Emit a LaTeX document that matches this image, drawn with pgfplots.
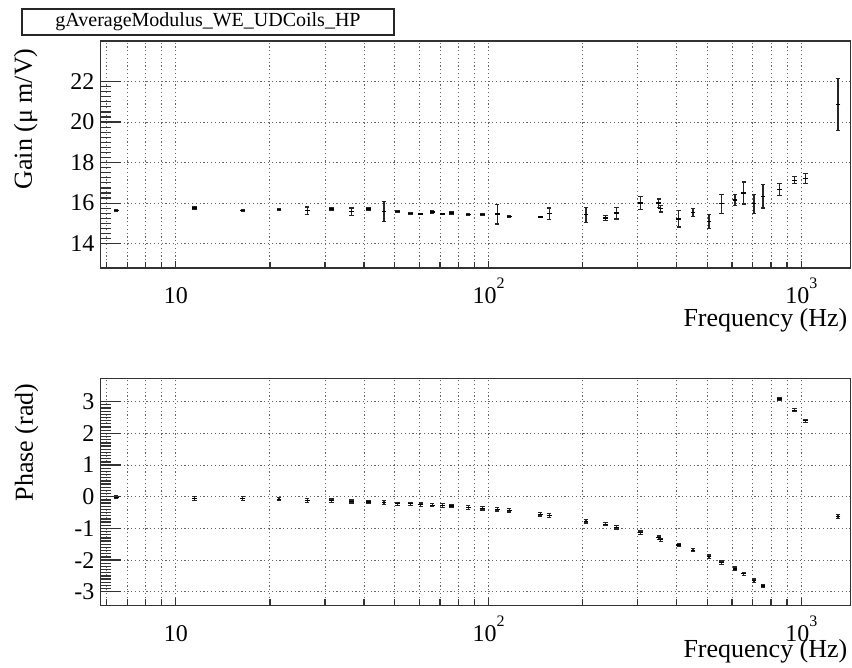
\documentclass[border=0pt]{standalone}
\usepackage{fontspec}
\setmainfont{Liberation Serif}
\usepackage{pgfplots}
\usepackage{pgfplotstable}
\pgfplotsset{compat=1.18}

% f [Hz], value, error
\pgfplotstableread{
f      g      ge
6.45   15.64  0.05
11.47  15.76  0.06
16.37  15.64  0.05
21.38  15.67  0.05
26.33  15.62  0.19
31.51  15.71  0.07
36.50  15.58  0.18
41.37  15.71  0.06
46.30  15.59  0.48
51.21  15.59  0.05
56.33  15.48  0.04
60.77  15.46  0.04
66.04  15.56  0.09
71.29  15.46  0.04
76.17  15.51  0.08
86.10  15.45  0.04
95.68  15.43  0.04
106.5  15.46  0.49
116.4  15.35  0.05
146.2  15.32  0.04
156.2  15.48  0.28
205.0  15.43  0.37
236.5  15.27  0.11
256.4  15.51  0.29
305.9  16.01  0.31
350.1  16.00  0.20
355.3  15.72  0.16
405.5  15.22  0.40
450.5  15.54  0.18
506.8  15.09  0.35
555.3  15.97  0.47
613.7  16.16  0.26
654.2  16.50  0.54
705.9  15.97  0.47
754.2  16.34  0.58
852.4  16.68  0.30
952.0  17.13  0.18
1032   17.21  0.26
1309   20.86  1.29
}\gaindata

\pgfplotstableread{
f      p      pe
6.45   -0.01  0.05
11.47  -0.06  0.06
16.37  -0.06  0.06
21.38  -0.08  0.05
26.33  -0.11  0.06
31.51  -0.12  0.05
36.50  -0.15  0.05
41.37  -0.17  0.05
46.30  -0.19  0.06
51.21  -0.22  0.05
56.33  -0.22  0.05
60.77  -0.25  0.05
66.04  -0.27  0.05
71.29  -0.28  0.06
76.17  -0.29  0.05
86.10  -0.34  0.06
95.68  -0.37  0.05
106.5  -0.40  0.05
116.4  -0.43  0.05
146.2  -0.55  0.06
156.2  -0.59  0.06
205.0  -0.78  0.05
236.5  -0.87  0.05
256.4  -0.97  0.05
305.9  -1.13  0.05
350.1  -1.29  0.05
355.3  -1.36  0.05
405.5  -1.52  0.05
450.5  -1.69  0.05
506.8  -1.89  0.05
555.3  -2.08  0.05
613.7  -2.28  0.06
654.2  -2.43  0.05
705.9  -2.65  0.05
754.2  -2.82  0.05
852.4   3.09  0.05
952.0   2.73  0.05
1032    2.40  0.05
1309   -0.62  0.07
}\phasedata

\newcommand\expo[1]{\raisebox{7.3pt}{\fontsize{8}{8}\selectfont #1}}

\begin{document}
\begin{tikzpicture}
\useasboundingbox (0,0) rectangle (426pt,334pt);

% histogram title box
\draw[line width=0.6pt, black!85] (11pt,316.5pt) rectangle (197pt,329.5pt);
\node[inner sep=0pt] at (104pt,323pt) {\fontsize{10}{12}\selectfont gAverageModulus\_WE\_UDCoils\_HP};

% ---------- gain ----------
\begin{axis}[
  at={(50.4pt,200pt)}, anchor=south west,
  scale only axis, width=375pt, height=113.5pt,
  xmode=log, xmin=5.76, xmax=1439,
  ymin=12.8, ymax=24.0,
  axis line style={line width=0.6pt, black!80},
  tick style={line width=0.6pt, black!80},
  tick align=inside,
  xtick pos=bottom, ytick pos=left,
  major tick length=3.6pt, minor tick length=3.2pt,
  xtick={10,100,1000},
  minor xtick={6,7,8,9,20,30,40,50,60,70,80,90,200,300,400,500,600,700,800,900},
  xticklabels={10, 10\expo{2}, 10\expo{3}},
  ytick={14,16,18,20,22}, minor y tick num=7,
  xmajorgrids=true, xminorgrids=true, ymajorgrids=true,
  grid style={black!60, line width=0.45pt, dash pattern=on 0.6pt off 1.3pt},
  yticklabel style={/pgf/number format/assume math mode=true, anchor=east, inner sep=0pt, xshift=-3pt, font=\fontsize{12}{12}\selectfont},
  xticklabel style={anchor=base, yshift=-17.7pt, font=\fontsize{12}{12}\selectfont},
  xlabel={Frequency (Hz)},
  xlabel style={at={([xshift=-1.5pt,yshift=-29.3pt]rel axis cs:1,0)}, anchor=base east, inner sep=0pt, font=\fontsize{13}{13}\selectfont},
  ylabel={Gain (μ m/V)},
  ylabel style={at={([xshift=-34.5pt,yshift=-3.5pt]rel axis cs:0,1)}, anchor=base east, inner sep=0pt, font=\fontsize{13}{13}\selectfont},
]
\addplot+[only marks, black, mark=-, mark size=1.2pt,
  mark options={line width=0.65pt, black},
  error bars/.cd, y dir=both, y explicit,
  error bar style={line width=0.6pt, black!85},
  error mark options={rotate=90, mark size=1.1pt, line width=0.6pt, black!85}]
  table[x=f, y=g, y error=ge] {\gaindata};
\end{axis}
% longer y ticks of the gain frame
\begin{axis}[
  at={(50.4pt,200pt)}, anchor=south west,
  scale only axis, width=375pt, height=113.5pt,
  xmode=log, xmin=5.76, xmax=1439,
  ymin=12.8, ymax=24.0,
  hide x axis, axis line style={draw=none},
  tick style={line width=0.6pt, black!80},
  tick align=inside, ytick pos=left,
  major tick length=10pt, minor tick length=5pt,
  ytick={14,16,18,20,22}, minor y tick num=7, yticklabels={},
]
\end{axis}

% ---------- phase ----------
\begin{axis}[
  at={(50.4pt,31.15pt)}, anchor=south west,
  scale only axis, width=375pt, height=113.7pt,
  xmode=log, xmin=5.76, xmax=1439,
  ymin=-3.44, ymax=3.74,
  axis line style={line width=0.6pt, black!80},
  tick style={line width=0.6pt, black!80},
  tick align=inside,
  xtick pos=bottom, ytick pos=left,
  major tick length=3.6pt, minor tick length=3.2pt,
  xtick={10,100,1000},
  minor xtick={6,7,8,9,20,30,40,50,60,70,80,90,200,300,400,500,600,700,800,900},
  xticklabels={10, 10\expo{2}, 10\expo{3}},
  ytick={-3,-2,-1,0,1,2,3}, minor y tick num=9,
  xmajorgrids=true, xminorgrids=true, ymajorgrids=true,
  grid style={black!60, line width=0.45pt, dash pattern=on 0.6pt off 1.3pt},
  yticklabel style={/pgf/number format/assume math mode=true, anchor=east, inner sep=0pt, xshift=-3pt, font=\fontsize{12}{12}\selectfont},
  xticklabel style={anchor=base, yshift=-17.7pt, font=\fontsize{12}{12}\selectfont},
  xlabel={Frequency (Hz)},
  xlabel style={at={([xshift=-1.5pt,yshift=-25.7pt]rel axis cs:1,0)}, anchor=base east, inner sep=0pt, font=\fontsize{13}{13}\selectfont},
  ylabel={Phase (rad)},
  ylabel style={at={([xshift=-34pt,yshift=-2.5pt]rel axis cs:0,1)}, anchor=base east, inner sep=0pt, font=\fontsize{13}{13}\selectfont},
]
\addplot+[only marks, black, mark=-, mark size=1.2pt,
  mark options={line width=0.65pt, black},
  error bars/.cd, y dir=both, y explicit,
  error bar style={line width=0.6pt, black!85},
  error mark options={rotate=90, mark size=1.1pt, line width=0.6pt, black!85}]
  table[x=f, y=p, y error=pe] {\phasedata};
\end{axis}
% longer y ticks of the phase frame
\begin{axis}[
  at={(50.4pt,31.15pt)}, anchor=south west,
  scale only axis, width=375pt, height=113.7pt,
  xmode=log, xmin=5.76, xmax=1439,
  ymin=-3.44, ymax=3.74,
  hide x axis, axis line style={draw=none},
  tick style={line width=0.6pt, black!80},
  tick align=inside, ytick pos=left,
  major tick length=10pt, minor tick length=5pt,
  ytick={-3,-2,-1,0,1,2,3}, minor y tick num=9, yticklabels={},
]
\end{axis}
\end{tikzpicture}
\end{document}
